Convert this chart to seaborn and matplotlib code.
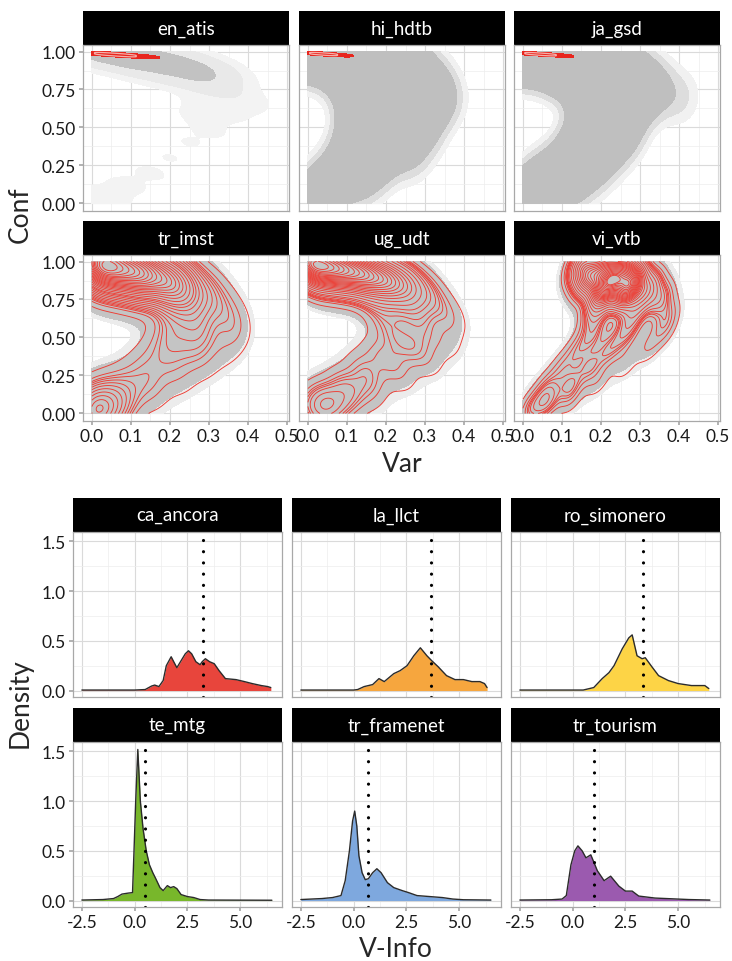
import numpy as np
import pandas as pd
import matplotlib
matplotlib.use("Agg")
import matplotlib.pyplot as plt
import seaborn as sns
from matplotlib.colors import ListedColormap
from matplotlib.ticker import MultipleLocator, FormatStrFormatter

sns.set_theme(style="whitegrid")
plt.rcParams['font.family'] = ['Lato', 'DejaVu Sans']

############################################
# DATA: data-map clouds (Var vs Conf)
############################################

map_names = ["en_atis", "hi_hdtb", "ja_gsd", "tr_imst", "ug_udt", "vi_vtb"]

en_atis_var = [0.00, 0.05, 0.10, 0.15, 0.20, 0.25, 0.30, 0.10, 0.18, 0.25, 0.30, 0.34, 0.38, 0.30, 0.28, 0.35, 0.30, 0.25, 0.20, 0.15, 0.09, 0.04, 0.01]
en_atis_conf = [1.00, 0.99, 0.975, 0.96, 0.94, 0.91, 0.87, 0.93, 0.88, 0.84, 0.81, 0.75, 0.68, 0.68, 0.58, 0.60, 0.48, 0.40, 0.30, 0.20, 0.12, 0.05, 0.01]
en_atis_w = [8, 7, 6, 5, 4.5, 4, 3, 4, 3.5, 3, 2, 0.4, 0.25, 0.25, 0.15, 0.12, 0.1, 0.08, 0.08, 0.1, 0.12, 0.15, 0.15]

hi_hdtb_var = [0.00, 0.06, 0.12, 0.18, 0.24, 0.08, 0.16, 0.28, 0.12, 0.22, 0.32, 0.12, 0.20, 0.30, 0.35, 0.13, 0.22, 0.31, 0.13, 0.22, 0.29, 0.12, 0.20, 0.26, 0.10, 0.17, 0.07, 0.13, 0.04, 0.01]
hi_hdtb_conf = [1.00, 0.98, 0.97, 0.96, 0.94, 0.92, 0.90, 0.88, 0.84, 0.82, 0.78, 0.74, 0.72, 0.70, 0.68, 0.62, 0.60, 0.58, 0.50, 0.48, 0.45, 0.38, 0.36, 0.32, 0.27, 0.24, 0.17, 0.14, 0.08, 0.01]
hi_hdtb_w = [3, 2, 2, 1.5, 1.2, 1.5, 1.5, 1, 1, 1, 0.8, 1, 1, 0.8, 0.5, 1, 1, 0.7, 1, 1, 0.6, 1, 1, 0.5, 1, 0.8, 1, 0.6, 1, 1.5]

ja_gsd_var = [0.00, 0.06, 0.12, 0.18, 0.10, 0.24, 0.16, 0.29, 0.21, 0.34, 0.40, 0.16, 0.24, 0.30, 0.18, 0.26, 0.18, 0.25, 0.15, 0.21, 0.12, 0.17, 0.07, 0.12, 0.04, 0.01]
ja_gsd_conf = [1.00, 0.98, 0.96, 0.93, 0.91, 0.89, 0.85, 0.83, 0.79, 0.76, 0.70, 0.72, 0.70, 0.68, 0.60, 0.58, 0.48, 0.46, 0.37, 0.35, 0.26, 0.24, 0.16, 0.13, 0.08, 0.02]
ja_gsd_w = [3, 2, 1.8, 1.5, 1.2, 1.2, 1.2, 0.9, 1, 0.5, 0.2, 0.8, 0.9, 0.6, 1, 0.8, 1, 0.7, 1, 0.7, 1, 0.6, 1, 0.5, 1, 1.2]

tr_imst_var = [0.00, 0.04, 0.08, 0.12, 0.03, 0.16, 0.08, 0.20, 0.13, 0.24, 0.19, 0.29, 0.23, 0.33, 0.25, 0.36, 0.27, 0.20, 0.37, 0.28, 0.21, 0.34, 0.25, 0.17, 0.29, 0.20, 0.13, 0.23, 0.15, 0.09, 0.16, 0.10, 0.05, 0.06, 0.02, 0.00]
tr_imst_conf = [1.00, 0.99, 0.97, 0.95, 0.95, 0.92, 0.91, 0.89, 0.87, 0.85, 0.82, 0.79, 0.76, 0.71, 0.68, 0.62, 0.60, 0.58, 0.53, 0.51, 0.50, 0.42, 0.41, 0.42, 0.32, 0.31, 0.31, 0.22, 0.21, 0.21, 0.12, 0.12, 0.12, 0.05, 0.04, 0.00]
tr_imst_w = [15, 15, 12, 12, 10, 10, 8, 8, 7, 6, 5, 3, 3, 1.5, 1.5, 1, 1.5, 1, 0.8, 1.5, 1.5, 0.8, 1.2, 1.2, 0.7, 1, 1, 0.7, 1, 1, 0.6, 1.2, 1.5, 3, 5, 5]

ug_udt_var = [0.00, 0.05, 0.10, 0.15, 0.20, 0.02, 0.08, 0.25, 0.14, 0.20, 0.30, 0.25, 0.34, 0.18, 0.28, 0.37, 0.20, 0.30, 0.23, 0.36, 0.27, 0.18, 0.31, 0.22, 0.14, 0.24, 0.16, 0.10, 0.15, 0.09, 0.05, 0.02]
ug_udt_conf = [1.00, 0.98, 0.96, 0.93, 0.90, 0.93, 0.90, 0.86, 0.86, 0.82, 0.80, 0.75, 0.70, 0.72, 0.65, 0.60, 0.60, 0.52, 0.50, 0.45, 0.42, 0.40, 0.33, 0.32, 0.30, 0.22, 0.21, 0.18, 0.12, 0.10, 0.07, 0.02]
ug_udt_w = [20, 18, 15, 12, 9, 8, 6, 6, 5, 4, 2, 2, 1, 1, 1.2, 0.7, 1, 1, 1.2, 0.6, 1.2, 1, 0.6, 1, 1, 0.5, 1, 1.5, 0.6, 1.5, 3, 2]

vi_vtb_var = [0.15, 0.21, 0.26, 0.17, 0.23, 0.28, 0.32, 0.20, 0.26, 0.35, 0.20, 0.29, 0.37, 0.18, 0.28, 0.36, 0.26, 0.18, 0.32, 0.22, 0.14, 0.26, 0.17, 0.10, 0.19, 0.12, 0.06, 0.12, 0.06, 0.02]
vi_vtb_conf = [0.97, 0.96, 0.93, 0.90, 0.88, 0.86, 0.82, 0.82, 0.80, 0.75, 0.74, 0.72, 0.65, 0.64, 0.62, 0.55, 0.52, 0.52, 0.44, 0.42, 0.42, 0.32, 0.31, 0.30, 0.21, 0.19, 0.18, 0.10, 0.08, 0.03]
vi_vtb_w = [4, 5, 5, 6, 9, 8, 3, 5, 5, 1.5, 1.5, 1.5, 0.7, 1, 1, 0.6, 1, 1, 0.6, 1, 0.8, 0.5, 1, 0.7, 0.5, 1, 0.6, 0.5, 1.5, 1]

# tight high-density spot at the top-left (first three datasets)
spike_var = {
    "en_atis": [0.00, 0.04, 0.08, 0.12, 0.00, 0.04, 0.08, 0.12],
    "hi_hdtb": [0.00, 0.027, 0.053, 0.08, 0.00, 0.027, 0.053, 0.08],
    "ja_gsd": [0.00, 0.03, 0.06, 0.09, 0.00, 0.03, 0.06, 0.09],
}
spike_conf = {
    "en_atis": [0.996, 0.989, 0.982, 0.975, 0.984, 0.977, 0.970, 0.963],
    "hi_hdtb": [0.995, 0.991, 0.986, 0.982, 0.985, 0.981, 0.976, 0.972],
    "ja_gsd": [0.995, 0.990, 0.985, 0.980, 0.985, 0.980, 0.975, 0.970],
}

map_data = {
    "en_atis": (en_atis_var, en_atis_conf, en_atis_w),
    "hi_hdtb": (hi_hdtb_var, hi_hdtb_conf, hi_hdtb_w),
    "ja_gsd": (ja_gsd_var, ja_gsd_conf, ja_gsd_w),
    "tr_imst": (tr_imst_var, tr_imst_conf, tr_imst_w),
    "ug_udt": (ug_udt_var, ug_udt_conf, ug_udt_w),
    "vi_vtb": (vi_vtb_var, vi_vtb_conf, vi_vtb_w),
}

############################################
# DATA: V-Info densities
############################################

dens_names = ["ca_ancora", "la_llct", "ro_simonero", "te_mtg", "tr_framenet", "tr_tourism"]
dens_colors = ["#E8453C", "#F6A63E", "#FDD446", "#78B72B", "#7EA8DE", "#9B5AAF"]
dens_means = [3.25, 3.65, 3.32, 0.47, 0.66, 1.02]

ca_ancora_x = [-2.5, 0.0, 0.5, 0.8, 0.95, 1.15, 1.35, 1.5, 1.73, 1.85, 2.0, 2.2, 2.4, 2.55, 2.7, 2.9, 3.1, 3.2, 3.35, 3.55, 3.77, 4.0, 4.3, 4.8, 5.2, 5.57, 6.0, 6.3, 6.45]
ca_ancora_y = [0.005, 0.005, 0.01, 0.045, 0.055, 0.04, 0.1, 0.25, 0.34, 0.29, 0.23, 0.3, 0.37, 0.40, 0.37, 0.29, 0.26, 0.29, 0.32, 0.29, 0.27, 0.2, 0.12, 0.11, 0.09, 0.07, 0.05, 0.04, 0.03]

la_llct_x = [-2.5, 0.0, 0.19, 0.5, 0.9, 1.2, 1.45, 1.9, 2.2, 2.53, 2.85, 3.16, 3.47, 3.7, 4.0, 4.4, 4.8, 5.2, 5.6, 5.98, 6.2, 6.32]
la_llct_y = [0.005, 0.005, 0.01, 0.04, 0.06, 0.12, 0.09, 0.17, 0.2, 0.25, 0.35, 0.43, 0.35, 0.30, 0.24, 0.15, 0.11, 0.11, 0.09, 0.09, 0.07, 0.03]

ro_simonero_x = [-2.5, 0.5, 1.0, 1.4, 1.72, 1.96, 2.35, 2.66, 2.82, 3.05, 3.29, 3.44, 3.75, 4.07, 4.54, 5.0, 5.63, 6.26, 6.45]
ro_simonero_y = [0.005, 0.005, 0.03, 0.12, 0.18, 0.25, 0.42, 0.53, 0.56, 0.35, 0.32, 0.33, 0.24, 0.15, 0.10, 0.07, 0.05, 0.05, 0.02]

te_mtg_x = [-2.5, -1.5, -1.0, -0.8, -0.6, -0.3, -0.1, -0.03, 0.05, 0.15, 0.27, 0.4, 0.55, 0.7, 0.86, 1.0, 1.2, 1.35, 1.55, 1.7, 1.85, 2.0, 2.2, 2.5, 2.8, 3.1, 3.5, 6.5]
te_mtg_y = [0.005, 0.01, 0.02, 0.04, 0.065, 0.075, 0.08, 0.5, 1.0, 1.52, 1.0, 0.72, 0.5, 0.36, 0.28, 0.22, 0.13, 0.1, 0.15, 0.13, 0.14, 0.12, 0.06, 0.04, 0.03, 0.01, 0.005, 0.003]

tr_framenet_x = [-2.5, -1.5, -1.0, -0.6, -0.4, -0.2, -0.05, 0.05, 0.15, 0.25, 0.4, 0.55, 0.7, 0.9, 1.1, 1.3, 1.6, 1.9, 2.3, 2.6, 3.0, 3.6, 4.2, 4.7, 5.2, 6.5]
tr_framenet_y = [0.01, 0.02, 0.03, 0.05, 0.2, 0.5, 0.8, 0.9, 0.75, 0.45, 0.28, 0.21, 0.22, 0.28, 0.32, 0.28, 0.18, 0.13, 0.1, 0.08, 0.05, 0.04, 0.03, 0.015, 0.008, 0.005]

tr_tourism_x = [-2.5, -1.0, -0.5, -0.3, -0.08, 0.1, 0.25, 0.45, 0.63, 0.86, 1.17, 1.49, 1.8, 2.19, 2.5, 2.82, 3.13, 3.9, 5.5, 6.5]
tr_tourism_y = [0.005, 0.008, 0.015, 0.05, 0.36, 0.5, 0.55, 0.5, 0.43, 0.46, 0.30, 0.2, 0.245, 0.145, 0.095, 0.095, 0.045, 0.025, 0.01, 0.005]

dens_data = {
    "ca_ancora": (ca_ancora_x, ca_ancora_y),
    "la_llct": (la_llct_x, la_llct_y),
    "ro_simonero": (ro_simonero_x, ro_simonero_y),
    "te_mtg": (te_mtg_x, te_mtg_y),
    "tr_framenet": (tr_framenet_x, tr_framenet_y),
    "tr_tourism": (tr_tourism_x, tr_tourism_y),
}

############################################
# Layout helpers
############################################

W, H = 732, 962
fig = plt.figure(figsize=(W / 100, H / 100), dpi=100)
fig.patch.set_facecolor("white")


def add_box(x0, y0, w, h):
    return fig.add_axes([x0 / W, 1 - (y0 + h) / H, w / W, h / H])


def strip(x0, y0, w, h, label):
    s = add_box(x0, y0, w, h)
    s.set_facecolor("black")
    s.set_xticks([])
    s.set_yticks([])
    for sp in s.spines.values():
        sp.set_visible(False)
    s.grid(False)
    s.text(0.5, 0.5, label, color="white", fontsize=13.5, ha="center", va="center",
           transform=s.transAxes)


def style_panel(ax, xmaj, xmin, ymaj, ymin, show_x, show_y):
    ax.set_facecolor("white")
    ax.xaxis.set_major_locator(MultipleLocator(xmaj))
    ax.xaxis.set_minor_locator(MultipleLocator(xmin))
    ax.yaxis.set_major_locator(MultipleLocator(ymaj))
    ax.yaxis.set_minor_locator(MultipleLocator(ymin))
    ax.grid(True, which="major", color="#DADADA", lw=0.8)
    ax.grid(True, which="minor", color="#EDEDED", lw=0.5)
    ax.set_axisbelow(True)
    for sp in ax.spines.values():
        sp.set_visible(True)
        sp.set_color("#A8A8A8")
        sp.set_linewidth(0.9)
    ax.tick_params(which="major", length=3, color="#A8A8A8", labelsize=12.5,
                   labelcolor="#1a1a1a", pad=2, bottom=True, left=True)
    ax.tick_params(which="minor", length=0)
    if not show_x:
        ax.tick_params(labelbottom=False, bottom=False)
    if not show_y:
        ax.tick_params(labelleft=False, left=False)
    ax.set_xlabel("")
    ax.set_ylabel("")


BOUNDS = ((0, 0.5), (0, 1))


def grey_layers(ax, df, bw, layers):
    # stack filled density regions, lightest (widest) first
    for lvl, col in layers:
        sns.kdeplot(data=df, x="Var", y="Conf", weights="w", ax=ax, fill=True,
                    bw_method=bw, levels=[lvl, 1], cmap=ListedColormap([col]),
                    clip=BOUNDS)


############################################
# Top: data maps
############################################

map_cols = [83, 299, 514]
map_rows = [(12, 46), (222, 256)]
pw, ph = 206, 166

for i, name in enumerate(map_names):
    r, c = divmod(i, 3)
    st, pt = map_rows[r]
    strip(map_cols[c], st, pw, pt - st, name)
    ax = add_box(map_cols[c], pt, pw, ph)
    v, cf, w = map_data[name]
    df = pd.DataFrame({"Var": v, "Conf": cf, "w": w})
    if name == "en_atis":
        grey_layers(ax, df, 0.42, [(0.01, "#F3F3F3"), (0.05, "#E9E9E9"), (0.26, "#C2C2C2")])
    elif r == 0:
        grey_layers(ax, df, 0.34, [(0.004, "#F1F1F1"), (0.012, "#DDDDDD"), (0.03, "#BFBFBF")])
    else:
        grey_layers(ax, df, 0.4, [(0.01, "#ECECEC"), (0.025, "#C4C4C4")])
    if r == 0:
        sp_df = pd.DataFrame({"Var": spike_var[name], "Conf": spike_conf[name]})
        sns.kdeplot(data=sp_df, x="Var", y="Conf", ax=ax, bw_method=0.9, fill=True,
                    levels=[0.1, 1], cmap=ListedColormap(["#E8261E"]), clip=BOUNDS)
        sns.kdeplot(data=sp_df, x="Var", y="Conf", ax=ax, bw_method=0.9,
                    levels=[0.55], colors=["#F6B0AA"], linewidths=0.9, clip=BOUNDS)
    else:
        sns.kdeplot(data=df, x="Var", y="Conf", weights="w", ax=ax, bw_method=0.33,
                    levels=30, thresh=0.015, colors=["#EE3B32"], linewidths=0.65,
                    clip=BOUNDS)
    ax.set_xlim(-0.023, 0.505)
    ax.set_ylim(-0.05, 1.043)
    style_panel(ax, 0.1, 0.05, 0.25, 0.125, r == 1, c == 0)
    ax.xaxis.set_major_formatter(FormatStrFormatter("%.1f"))
    ax.yaxis.set_major_formatter(FormatStrFormatter("%.2f"))

fig.text(20 / W, 1 - 215 / H, "Conf", rotation=90, fontsize=19, ha="center", va="center")
fig.text(402 / W, 1 - 465 / H, "Var", fontsize=19, ha="center", va="center")

############################################
# Bottom: V-Info densities
############################################

dens_cols = [73, 292, 511]
dens_rows = [(499, 533), (709, 743)]
dw, dh = 209, 165

for i, name in enumerate(dens_names):
    r, c = divmod(i, 3)
    st, pt = dens_rows[r]
    strip(dens_cols[c], st, dw, pt - st, name)
    ax = add_box(dens_cols[c], pt, dw, dh)
    xs, ys = dens_data[name]
    ax.fill_between(xs, ys, 0, color=dens_colors[i], lw=0)
    sns.lineplot(x=xs, y=ys, ax=ax, color="#2b2b2b", lw=1.0, sort=False)
    ax.axvline(dens_means[i], color="black", lw=2.3, linestyle=(0, (0.01, 3.5)),
               dash_capstyle="round")
    ax.set_xlim(-2.92, 6.98)
    ax.set_ylim(-0.065, 1.595)
    style_panel(ax, 2.5, 1.25, 0.5, 0.25, r == 1, c == 0)
    ax.xaxis.set_major_formatter(FormatStrFormatter("%.1f"))
    ax.yaxis.set_major_formatter(FormatStrFormatter("%.1f"))

fig.text(20 / W, 1 - 703 / H, "Density", rotation=90, fontsize=19, ha="center", va="center")
fig.text(396 / W, 1 - 950 / H, "V-Info", fontsize=19, ha="center", va="center")

fig.savefig("out.png", dpi=100, facecolor="white")
